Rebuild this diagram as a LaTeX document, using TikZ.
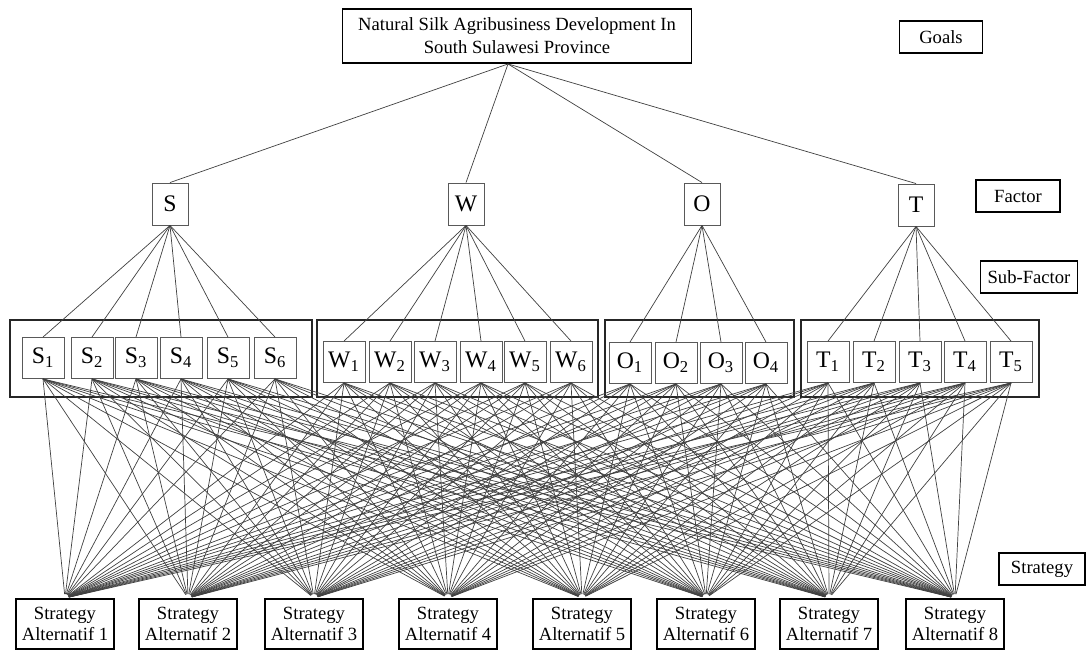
\documentclass[tikz,border=0pt]{standalone}
\usepackage{fontspec}
\setmainfont{Liberation Serif}

\begin{document}
\begin{tikzpicture}[x=0.2mm, y=-0.2mm,
    goalbox/.style={draw, line width=1.1pt, minimum width=69.8mm, minimum height=10.8mm, align=center, inner sep=1pt, font=\fontsize{10.6}{13}\selectfont},
    tagbox/.style={draw, line width=1.1pt, minimum height=6.4mm, inner sep=1pt, font=\fontsize{10.6}{13}\selectfont},
    factorbox/.style={draw=black!65, line width=0.5pt, minimum width=7.2mm, minimum height=8.4mm, inner sep=0pt, font=\fontsize{13.5}{16}\selectfont},
    subbox/.style={draw=black!65, line width=0.5pt, minimum width=8.4mm, minimum height=8.2mm, inner sep=0pt, font=\fontsize{13.5}{16}\selectfont},
    groupbox/.style={draw=black!85, line width=0.7pt},
    altbox/.style={draw, line width=1.1pt, minimum width=19.6mm, minimum height=10mm, align=center, inner sep=1pt, font=\fontsize{10.6}{11.8}\selectfont},
    link/.style={draw=black!75, line width=0.4pt}
]
    \useasboundingbox (0,0) rectangle (1090,652);

    % Goal and level tags
    \node[goalbox] (goal) at (517,36) {Natural Silk Agribusiness Development In\\South Sulawesi Province};
    \node[tagbox, minimum width=16.6mm] (tgoals) at (941,37) {Goals};
    \node[tagbox, minimum width=16.8mm] (tfactor) at (1018,196) {Factor};
    \node[tagbox, minimum width=19.4mm] (tsub) at (1029,277) {Sub-Factor};
    \node[tagbox, minimum width=17.2mm] (tstrat) at (1042,569) {Strategy};

    % Factors
    \node[factorbox] (S) at (170,204) {S};
    \node[factorbox] (W) at (466,204) {W};
    \node[factorbox] (O) at (702,204) {O};
    \node[factorbox] (T) at (916,205) {T};

    % Sub-factor groups
    \draw[groupbox] (10,320) rectangle (312,397);
    \draw[groupbox] (317,320) rectangle (598,397);
    \draw[groupbox] (605,320) rectangle (794,397);
    \draw[groupbox] (801,320) rectangle (1039,397);

    % Sub-factors
    \foreach \x [count=\k] in {43,92,136,181,228,275}
        \node[subbox] (S\k) at (\x,358) {S\textsubscript{\k}};
    \foreach \x [count=\k] in {344,390,435,481,525,571}
        \node[subbox] (W\k) at (\x,362) {W\textsubscript{\k}};
    \foreach \x [count=\k] in {630,676,721,766}
        \node[subbox] (O\k) at (\x,363) {O\textsubscript{\k}};
    \foreach \x [count=\k] in {828,874,920,965,1011}
        \node[subbox] (T\k) at (\x,362) {T\textsubscript{\k}};

    % Strategy alternatives
    \foreach \x [count=\a] in {65,188,314,448,582,706,829,955}
        \node[altbox] (alt\a) at (\x,624) {Strategy\\Alternatif \a};

    % Connections
    \foreach \g in {S,W,O,T}
        \draw[link] ([xshift=-1.8mm]goal.south) -- (\g.north);
    \foreach \g/\n in {S/6,W/6,O/4,T/5}
        \foreach \k in {1,...,\n}
            \draw[link] (\g.south) -- (\g\k.north);
    \foreach \g/\n in {S/6,W/6,O/4,T/5}
        \foreach \k in {1,...,\n}
            \foreach \a in {1,...,8}
                \draw[link, shorten >=0.8mm] (\g\k.south) -- (alt\a.north);
\end{tikzpicture}
\end{document}
